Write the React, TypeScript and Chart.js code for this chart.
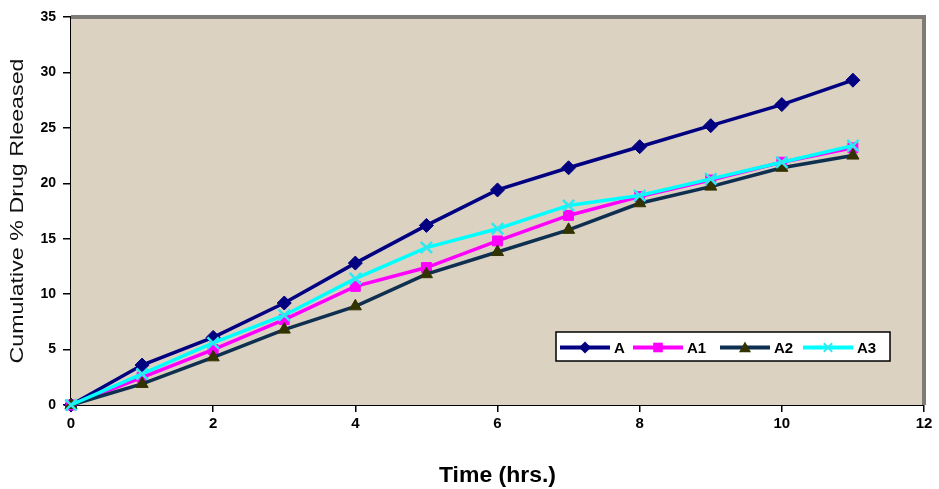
import React, { useEffect, useRef } from "react";
import { Chart, registerables } from "chart.js";

Chart.register(...registerables);

const times = [0, 1, 2, 3, 4, 5, 6, 7, 8, 9, 10, 11];
const seriesA = [0, 3.6, 6.1, 9.2, 12.8, 16.2, 19.4, 21.4, 23.3, 25.2, 27.1, 29.3];
const seriesA1 = [0, 2.5, 5.0, 7.7, 10.7, 12.4, 14.8, 17.1, 18.8, 20.3, 21.9, 23.2];
const seriesA2 = [0, 1.9, 4.3, 6.8, 8.9, 11.8, 13.8, 15.8, 18.2, 19.7, 21.4, 22.5];
const seriesA3 = [0, 2.8, 5.6, 8.1, 11.4, 14.2, 15.9, 18.0, 18.9, 20.4, 21.9, 23.4];
const seriesNames = ["A", "A1", "A2", "A3"];
const xTicks = [0, 2, 4, 6, 8, 10, 12];
const yTicks = [0, 5, 10, 15, 20, 25, 30, 35];
const xTitle = "Time (hrs.)";
const yTitle = "Cumulative % Drug Rleeased";

const FONT = "'Liberation Sans', Arial, sans-serif";

function drawStretched(ctx: CanvasRenderingContext2D, text: string, cx: number, cy: number, font: string, target: number, rotate: boolean, color: string) {
  ctx.save();
  ctx.font = font;
  ctx.fillStyle = color;
  const w = ctx.measureText(text).width;
  ctx.translate(cx, cy);
  if (rotate) ctx.rotate(-Math.PI / 2);
  ctx.scale(target / w, 1);
  ctx.textAlign = "center";
  ctx.textBaseline = "middle";
  ctx.fillText(text, 0, 0);
  ctx.restore();
}

const bgPlugin = {
  id: "bgPlugin",
  beforeDatasetsDraw(chart: any) {
    const { ctx, chartArea: a } = chart;
    ctx.save();
    ctx.fillStyle = "#dbd2c2";
    ctx.fillRect(a.left, a.top, a.right - a.left, a.bottom - a.top);
    ctx.strokeStyle = "#7f7b76";
    ctx.lineWidth = 4;
    ctx.beginPath();
    ctx.moveTo(a.left, a.top);
    ctx.lineTo(a.right, a.top);
    ctx.lineTo(a.right, a.bottom);
    ctx.stroke();
    ctx.restore();
  },
};

const titlePlugin = {
  id: "axisTitles",
  afterDraw(chart: any) {
    const { ctx, chartArea: a } = chart;
    drawStretched(ctx, xTitle, (a.left + a.right) / 2, 476, `bold 22px ${FONT}`, 117, false, "#000");
    drawStretched(ctx, yTitle, 18, (a.top + a.bottom) / 2, `19px ${FONT}`, 305, true, "#111");
  },
};

function drawMarker(ctx: CanvasRenderingContext2D, style: string, x: number, y: number, r: number, fill: string, stroke: string) {
  ctx.save();
  ctx.fillStyle = fill;
  ctx.strokeStyle = stroke;
  ctx.lineWidth = 2;
  ctx.beginPath();
  if (style === "rectRot") {
    ctx.moveTo(x, y - r);
    ctx.lineTo(x + r, y);
    ctx.lineTo(x, y + r);
    ctx.lineTo(x - r, y);
    ctx.closePath();
    ctx.fill();
  } else if (style === "rect") {
    ctx.rect(x - r * 0.8, y - r * 0.8, r * 1.6, r * 1.6);
    ctx.fill();
  } else if (style === "triangle") {
    ctx.moveTo(x, y - r);
    ctx.lineTo(x + r, y + r * 0.8);
    ctx.lineTo(x - r, y + r * 0.8);
    ctx.closePath();
    ctx.fill();
  } else {
    ctx.moveTo(x - r * 0.7, y - r * 0.7);
    ctx.lineTo(x + r * 0.7, y + r * 0.7);
    ctx.moveTo(x + r * 0.7, y - r * 0.7);
    ctx.lineTo(x - r * 0.7, y + r * 0.7);
    ctx.stroke();
  }
  ctx.restore();
}

const legendPlugin = {
  id: "customLegend",
  afterDraw(chart: any) {
    const { ctx } = chart;
    const bx = 556, by = 332, bw = 334, bh = 29;
    ctx.save();
    ctx.fillStyle = "#ffffff";
    ctx.fillRect(bx, by, bw, bh);
    ctx.strokeStyle = "#000";
    ctx.lineWidth = 1.5;
    ctx.strokeRect(bx, by, bw, bh);
    const starts = [560, 633, 720, 803];
    const cy = by + bh / 2 + 1;
    chart.data.datasets.forEach((ds: any, i: number) => {
      const x0 = starts[i];
      ctx.strokeStyle = ds.borderColor;
      ctx.lineWidth = 4;
      ctx.beginPath();
      ctx.moveTo(x0, cy);
      ctx.lineTo(x0 + 50, cy);
      ctx.stroke();
      drawMarker(ctx, ds.pointStyle, x0 + 25, cy, 6, ds.pointBackgroundColor, ds.pointBorderColor);
      ctx.fillStyle = "#000";
      ctx.font = `bold 15px ${FONT}`;
      ctx.textBaseline = "middle";
      ctx.textAlign = "left";
      ctx.fillText(ds.label, x0 + 54, cy + 1);
    });
    ctx.restore();
  },
};

function toPoints(vals: number[]) {
  return vals.map((v, i) => ({ x: times[i], y: v }));
}

export default function App() {
  const ref = useRef<HTMLCanvasElement>(null);
  useEffect(() => {
    document.body.style.margin = "0";
    const canvas = ref.current!;
    const mk = (label: string, data: number[], line: string, fill: string, stroke: string, style: string, radius: number, order: number) => ({
      label,
      data: toPoints(data),
      borderColor: line,
      borderWidth: 3.5,
      pointStyle: style,
      pointRadius: radius,
      pointBackgroundColor: fill,
      pointBorderColor: stroke,
      pointBorderWidth: style === "crossRot" ? 2.5 : 1,
      tension: 0,
      order,
      clip: false as any,
    });
    const chart = new Chart(canvas, {
      type: "line",
      data: {
        datasets: [
          mk(seriesNames[0], seriesA, "#000080", "#000080", "#000080", "rectRot", 7, 4),
          mk(seriesNames[1], seriesA1, "#ff00ff", "#ff00ff", "#ff00ff", "rect", 7, 3),
          mk(seriesNames[2], seriesA2, "#0f2f50", "#333300", "#333300", "triangle", 7, 2),
          mk(seriesNames[3], seriesA3, "#00ffff", "#00ffff", "#30e8f0", "crossRot", 8, 1),
        ] as any,
      },
      options: {
        responsive: false,
        animation: false,
        layout: { padding: { top: 17, right: 15, left: 0, bottom: 0 } },
        plugins: { legend: { display: false }, tooltip: { enabled: false } },
        scales: {
          x: {
            type: "linear",
            min: 0,
            max: 12,
            afterBuildTicks: (s: any) => { s.ticks = xTicks.map((v) => ({ value: v })); },
            afterFit: (s: any) => { s.height = 84; },
            border: { color: "#000", width: 2 },
            grid: { drawOnChartArea: false, drawTicks: true, tickLength: 7, color: "#000", lineWidth: 1.5 },
            ticks: { color: "#000", font: { family: FONT, size: 15, weight: "bold" }, padding: 3 },
          },
          y: {
            type: "linear",
            min: 0,
            max: 35,
            afterBuildTicks: (s: any) => { s.ticks = yTicks.map((v) => ({ value: v })); },
            afterFit: (s: any) => { s.width = 71; },
            border: { color: "#000", width: 2 },
            grid: { drawOnChartArea: false, drawTicks: true, tickLength: 8, color: "#000", lineWidth: 1.5 },
            ticks: { color: "#000", font: { family: FONT, size: 14, weight: "bold" }, padding: 7 },
          },
        },
      },
      plugins: [bgPlugin, legendPlugin, titlePlugin],
    } as any);
    return () => chart.destroy();
  }, []);
  return <canvas ref={ref} width={939} height={489} style={{ display: "block" }} />;
}
